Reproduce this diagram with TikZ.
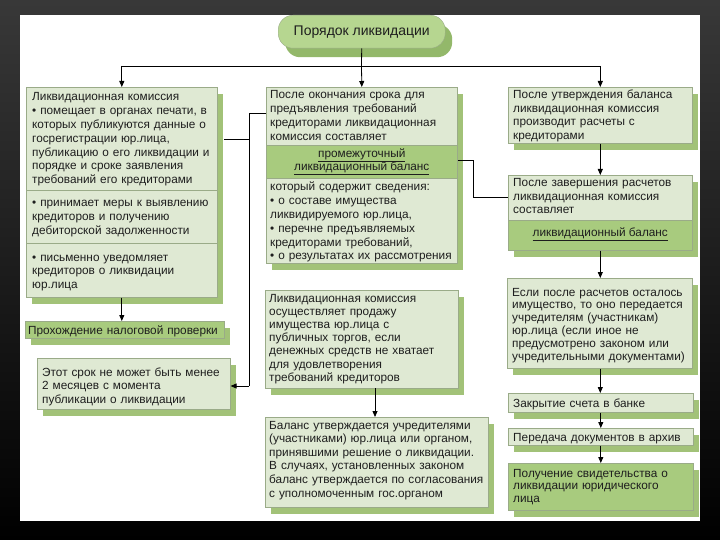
\documentclass[tikz,border=0pt]{standalone}
\usepackage{fontspec}
\setmainfont{Liberation Sans}
\usetikzlibrary{arrows.meta,shadows}
\definecolor{lightf}{HTML}{DFE9D3}
\definecolor{bord}{HTML}{9AAB88}
\definecolor{shadc}{HTML}{A2C278}
\definecolor{darkf}{HTML}{A8CB7E}
\definecolor{titlef}{HTML}{B6D690}
\definecolor{titles}{HTML}{93B86A}
\definecolor{txtc}{HTML}{1E1E1E}
\newcommand{\bfs}{\fontsize{11.8}{13.8}\selectfont}
\newcommand{\bfsb}{\fontsize{11.8}{13.2}\selectfont}
\newcommand{\bfsc}{\fontsize{11.8}{12.8}\selectfont}
\tikzset{
  box/.style={draw=bord, line width=0.6pt, fill=lightf, anchor=north west, inner sep=0pt,
    drop shadow={shadow xshift=6pt, shadow yshift=-7pt, fill=shadc, opacity=1}},
  band/.style={draw=bord, line width=0.6pt, fill=darkf, anchor=north west, inner sep=0pt},
  txt/.style={anchor=base west, align=left, inner sep=0pt, font=\bfs, text=txtc, text width=240pt},
  ctxt/.style={anchor=center, align=center, inner sep=0pt, font=\bfs, text=txtc},
  conn/.style={line width=0.8pt, black},
  arr/.style={conn, -{Triangle[length=6pt,width=5pt]}}
}
\begin{document}
\begin{tikzpicture}[x=1pt,y=-1pt]
\useasboundingbox (0,0) rectangle (720,540);
\shade[top color=black!78, bottom color=black] (0,0) rectangle (720,540);
\fill[white] (20,15) rectangle (700,521);

% title
\node[draw=bord, fill=titlef, rounded corners=15pt, minimum width=167pt, minimum height=33pt,
  anchor=north west, inner sep=0pt, font=\fontsize{14}{16}\selectfont, text=txtc,
  drop shadow={shadow xshift=7pt, shadow yshift=-9pt, fill=titles, opacity=1}]
  (T) at (278,15) {Порядок ликвидации};

% left column
\node[box, minimum width=191pt, minimum height=210pt] (L1) at (26,87) {};
\draw[draw=bord, line width=0.6pt] (26,190) -- (217,190) (26,243) -- (217,243);
\node[txt] (L1a) at (32,101) {Ликвидационная комиссия\\• помещает в органах печати, в\\которых публикуются данные о\\госрегистрации юр.лица,\\публикацию о его ликвидации и\\порядке и сроке заявления\\требований его кредиторами};
\node[txt] (L1b) at (32,207) {• принимает меры к выявлению\\кредиторов и получению\\дебиторской задолженности};
\node[txt] (L1c) at (32,261) {• письменно уведомляет\\кредиторов о ликвидации\\юр.лица};

\node[box, fill=darkf, minimum width=199pt, minimum height=17pt] (L2) at (25,321) {};
\node[txt] (L2t) at (28,334) {Прохождение налоговой проверки};

\node[box, minimum width=193pt, minimum height=51pt] (L3) at (37,358) {};
\node[txt] (L3t) at (42,376) {Этот срок не может быть менее\\2 месяцев с момента\\публикации о ликвидации};

% middle column
\node[box, minimum width=191pt, minimum height=176pt] (M1) at (266,87) {};
\node[band, minimum width=191pt, minimum height=33pt] (MB) at (266,145) {};
\node[txt] (M1a) at (270,99) {После окончания срока для\\предъявления требований\\кредиторами ликвидационная\\комиссия составляет};
\node[ctxt] (MBt) at (MB.center) {\underline{промежуточный}\\\underline{ликвидационный баланс}};
\node[txt] (M1b) at (270,191) {который содержит сведения:\\• о составе имущества\\ликвидируемого юр.лица,\\• перечне предъявляемых\\кредиторами требований,\\• о результатах их рассмотрения};

\node[box, minimum width=193pt, minimum height=98pt] (M2) at (265,290) {};
\node[txt, font=\bfsb] (M2t) at (269,302) {Ликвидационная комиссия\\осуществляет продажу\\имущества юр.лица с\\публичных торгов, если\\денежных средств не хватает\\для удовлетворения\\требований кредиторов};

\node[box, minimum width=223pt, minimum height=90pt] (M3) at (265,417) {};
\node[txt, font=\fontsize{11.8}{13.6}\selectfont] (M3t) at (269,429) {Баланс утверждается учредителями\\(участниками) юр.лица или органом,\\принявшими решение о ликвидации.\\В случаях, установленных законом\\баланс утверждается по согласования\\с уполномоченным гос.органом};

% right column
\node[box, minimum width=184pt, minimum height=56pt] (R1) at (508,87) {};
\node[txt, font=\fontsize{11.8}{13.4}\selectfont] (R1t) at (513,99) {После утверждения баланса\\ликвидационная комиссия\\производит расчеты с\\кредиторами};

\node[box, minimum width=184pt, minimum height=75pt] (R2) at (508,175) {};
\node[band, minimum width=184pt, minimum height=30pt] (RB) at (508,220) {};
\node[txt, font=\fontsize{11.8}{13.4}\selectfont] (R2t) at (513,187) {После завершения расчетов\\ликвидационная комиссия\\составляет};
\node[ctxt] (RBt) at ([yshift=1pt]RB.center) {\underline{ликвидационный баланс}};

\node[box, minimum width=185pt, minimum height=90pt] (R3) at (507,278) {};
\node[txt, font=\bfsc] (R3t) at (512,296) {Если после расчетов осталось\\имущество, то оно передается\\учредителям (участникам)\\юр.лица (если иное не\\предусмотрено законом или\\учредительными документами)};

\node[box, minimum width=185pt, minimum height=19pt] (R4) at (508,393) {};
\node[txt] (R4t) at (513,407) {Закрытие счета в банке};

\node[box, minimum width=185pt, minimum height=17pt] (R5) at (508,428) {};
\node[txt] (R5t) at (513,441) {Передача документов в архив};

\node[box, fill=darkf, minimum width=185pt, minimum height=47pt] (R6) at (508,463) {};
\node[txt, font=\bfsc] (R6t) at (513,477) {Получение свидетельства о\\ликвидации юридического\\лица};

% connectors
\coordinate (J) at (361.5,66);
\draw[conn] (T.south) -- (J);
\draw[conn] (L1.north |- J) -- (R1.north |- J);
\draw[arr] (L1.north |- J) -- (L1.north);
\draw[arr] (J) -- (M1.north);
\draw[arr] (R1.north |- J) -- (R1.north);

\draw[arr] (L1.south) -- (L1.south |- L2.north);

\coordinate (V1) at (249,113);
\coordinate (V2) at (249,386);
\draw[conn] (M1.west |- V1) -- (V1) -- (V2);
\draw[conn] (224,139) -- (249,139);
\draw[arr] (V2) -- (L3.east |- V2);

\coordinate (W1) at (473,160);
\coordinate (W2) at (473,197);
\draw[conn] (MB.east |- W1) -- (W1) -- (W2) -- (R2.west |- W2);

\draw[arr] (R1.south) -- (R2.north);
\draw[arr] (RB.south) -- (RB.south |- R3.north);
\draw[arr] (RB.south |- R3.south) -- (RB.south |- R4.north);
\draw[arr] (R4.south) -- (R5.north);
\draw[arr] (R5.south) -- (R6.north);

\coordinate (X) at (375,388);
\draw[arr] (X) -- (M3.north -| X);
\end{tikzpicture}
\end{document}
